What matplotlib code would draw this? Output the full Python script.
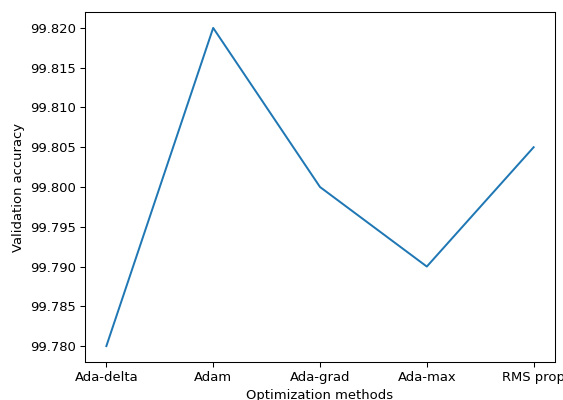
import matplotlib
matplotlib.use("Agg")
import matplotlib.pyplot as plt
from matplotlib.ticker import FormatStrFormatter

methods = ["Ada-delta", "Adam", "Ada-grad", "Ada-max", "RMS prop"]
accuracy = [99.780, 99.820, 99.800, 99.790, 99.805]

# reference looks like a default figure scaled down a bit, so use a lower dpi
DPI = 94.7


def main() -> None:
    fig = plt.figure(figsize=(563 / DPI, 400 / DPI), dpi=DPI)
    ax = fig.add_axes([85 / 563, 1 - 362 / 400, 470 / 563, 350 / 400])

    ax.plot(methods, accuracy)

    ax.yaxis.set_major_formatter(FormatStrFormatter("%.3f"))
    ax.set_xlabel("Optimization methods")
    ax.set_ylabel("Validation accuracy")

    fig.savefig("out.png", dpi=DPI)
    plt.close(fig)


if __name__ == "__main__":
    main()
